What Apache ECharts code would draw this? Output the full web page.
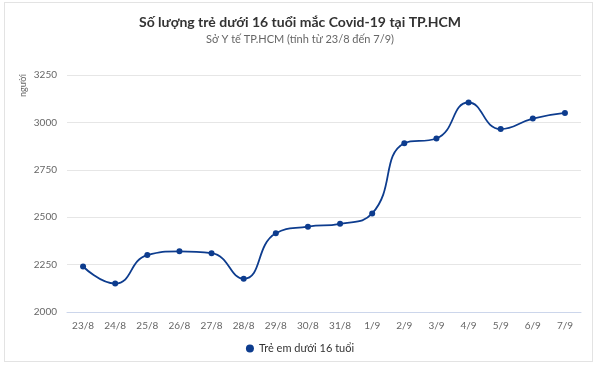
<!DOCTYPE html>
<html>
<head>
<meta charset="utf-8">
<script src="https://cdn.jsdelivr.net/npm/echarts@6/dist/echarts.min.js"></script>
<style>
  html, body { margin: 0; padding: 0; background: #fff; }
  #card { position: absolute; left: 4px; top: 2px; width: 589px; height: 360px; border: 1px solid #e3e3e3; box-sizing: border-box; }
  #main { position: absolute; left: 0; top: 0; width: 600px; height: 377px; }
</style>
</head>
<body>
<div id="card"></div>
<div id="main"></div>
<script>
// ngày
var categories = ['23/8', '24/8', '25/8', '26/8', '27/8', '28/8', '29/8', '30/8', '31/8', '1/9', '2/9', '3/9', '4/9', '5/9', '6/9', '7/9']
// số ca trẻ em
var treEm = [2240, 2150, 2300, 2320, 2310, 2175, 2415, 2450, 2465, 2520, 2890, 2915, 3105, 2965, 3020, 3050]

var chart = echarts.init(document.getElementById('main'))
chart.setOption({
  animation: false,
  textStyle: { fontFamily: 'Lato' },
  title: {
    text: 'Số lượng trẻ dưới 16 tuổi mắc Covid-19 tại TP.HCM',
    subtext: 'Sở Y tế TP.HCM (tính từ 23/8 đến 7/9)',
    left: 'center',
    top: 10,
    itemGap: 5,
    textStyle: { fontSize: 14, fontWeight: 'bold', color: '#333', fontFamily: 'Lato' },
    subtextStyle: { fontSize: 11, color: '#666', fontFamily: 'Lato' }
  },
  // tên trục tung
  graphic: [{
    type: 'text',
    left: 19,
    top: 74,
    rotation: Math.PI / 2,
    style: { text: 'người', fill: '#666', fontSize: 9, fontFamily: 'Lato' }
  }],
  legend: {
    data: ['Trẻ em dưới 16 tuổi'],
    bottom: 18,
    icon: 'circle',
    itemWidth: 8,
    itemHeight: 8,
    textStyle: { fontSize: 11, color: '#333' }
  },
  grid: { left: 67, right: 19, top: 75, bottom: 65 },
  xAxis: {
    type: 'category',
    data: categories,
    boundaryGap: true,
    axisLine: { lineStyle: { color: '#ccd6eb' } },
    axisTick: { show: false },
    axisLabel: { color: '#666', fontSize: 10, margin: 9 }
  },
  yAxis: {
    type: 'value',
    min: 2000,
    max: 3250,
    interval: 250,
    axisLabel: { color: '#666', fontSize: 10, margin: 10, formatter: function (v) { return String(v) } },
    splitLine: { lineStyle: { color: '#e6e6e6' } }
  },
  series: [{
    name: 'Trẻ em dưới 16 tuổi',
    type: 'line',
    smooth: true,
    data: treEm,
    symbol: 'circle',
    symbolSize: 6,
    lineStyle: { color: '#0d3c8e', width: 1.8 },
    itemStyle: { color: '#0d3c8e' }
  }]
})
</script>
</body>
</html>
